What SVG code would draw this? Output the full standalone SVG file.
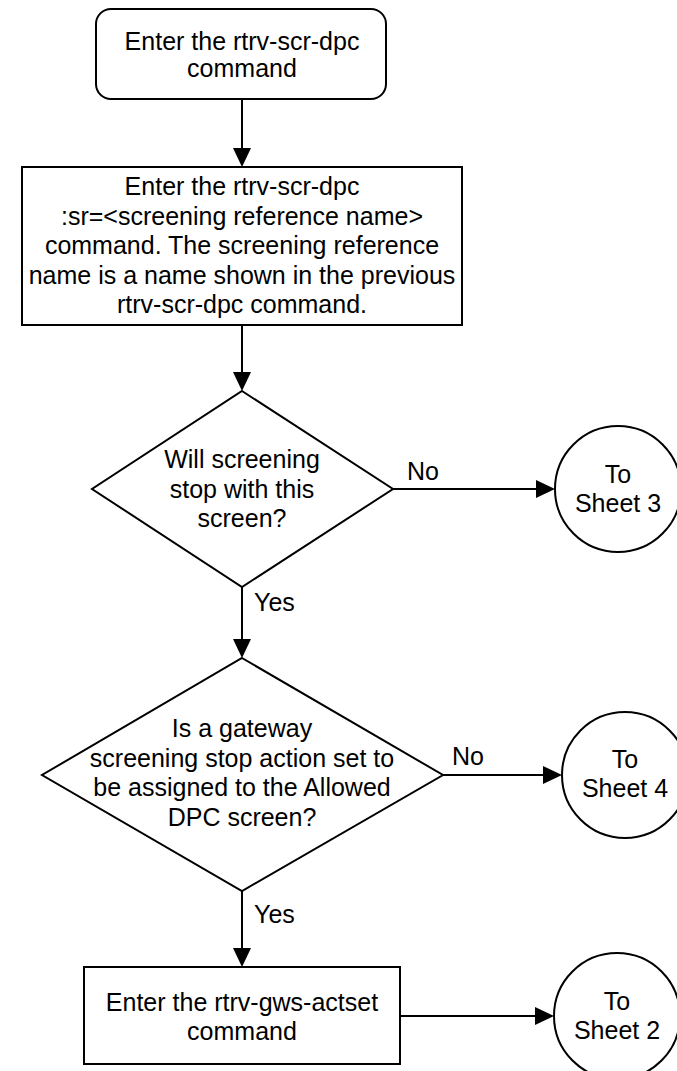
<svg xmlns="http://www.w3.org/2000/svg" width="677" height="1071" viewBox="0 0 677 1071">
<style>
.s{fill:#fff;stroke:#000;stroke-width:2}
.t{font-family:"Liberation Sans",Arial,sans-serif;font-size:25px;fill:#000;text-anchor:middle}
.l{font-family:"Liberation Sans",Arial,sans-serif;font-size:25px;fill:#000}
.c{fill:none;stroke:#000;stroke-width:2}
</style>
<defs>
<marker id="ah" markerUnits="userSpaceOnUse" markerWidth="19" markerHeight="18" refX="0" refY="9" orient="auto">
<path d="M0,0 L19,9 L0,18 z" fill="#000"/>
</marker>
</defs>
<rect width="677" height="1071" fill="#fff"/>
<g id="connectors">
<line class="c" x1="242" y1="99" x2="242" y2="148" marker-end="url(#ah)"/>
<line class="c" x1="242" y1="325" x2="242" y2="372" marker-end="url(#ah)"/>
<line class="c" x1="393" y1="489" x2="536" y2="489" marker-end="url(#ah)"/>
<line class="c" x1="242" y1="587" x2="242" y2="639" marker-end="url(#ah)"/>
<line class="c" x1="443" y1="775" x2="543" y2="775" marker-end="url(#ah)"/>
<line class="c" x1="242" y1="891" x2="242" y2="948" marker-end="url(#ah)"/>
<line class="c" x1="400" y1="1016" x2="535" y2="1016" marker-end="url(#ah)"/>
<text class="l" x="407" y="480">No</text>
<text class="l" x="254" y="611">Yes</text>
<text class="l" x="452" y="765">No</text>
<text class="l" x="254" y="923">Yes</text>
</g>
<g id="start">
<rect class="s" x="96" y="9" width="290" height="90" rx="15"/>
<text class="t" x="242" y="50">Enter the rtrv-scr-dpc</text>
<text class="t" x="242" y="77">command</text>
</g>
<g id="step2">
<rect class="s" x="22" y="167" width="440" height="158"/>
<text class="t" x="242" y="195">Enter the rtrv-scr-dpc</text>
<text class="t" x="242" y="224.5">:sr=&lt;screening reference name&gt;</text>
<text class="t" x="242" y="254">command. The screening reference</text>
<text class="t" x="242" y="283.5">name is a name shown in the previous</text>
<text class="t" x="242" y="313">rtrv-scr-dpc command.</text>
</g>
<g id="decision1">
<polygon class="s" points="242,391 393,489 242,587 92,489"/>
<text class="t" x="242" y="468">Will screening</text>
<text class="t" x="242" y="497.5">stop with this</text>
<text class="t" x="242" y="527">screen?</text>
</g>
<g id="sheet3">
<circle class="s" cx="618" cy="489" r="63"/>
<text class="t" x="618" y="483">To</text>
<text class="t" x="618" y="512">Sheet 3</text>
</g>
<g id="decision2">
<polygon class="s" points="242,658 443,775 242,891 42,775"/>
<text class="t" x="242" y="737">Is a gateway</text>
<text class="t" x="242" y="766.5">screening stop action set to</text>
<text class="t" x="242" y="796">be assigned to the Allowed</text>
<text class="t" x="242" y="825.5">DPC screen?</text>
</g>
<g id="sheet4">
<circle class="s" cx="625" cy="775" r="63"/>
<text class="t" x="625" y="768">To</text>
<text class="t" x="625" y="797">Sheet 4</text>
</g>
<g id="step3">
<rect class="s" x="84" y="967" width="316" height="97"/>
<text class="t" x="242" y="1011">Enter the rtrv-gws-actset</text>
<text class="t" x="242" y="1040">command</text>
</g>
<g id="sheet2">
<circle class="s" cx="617" cy="1016" r="63"/>
<text class="t" x="617" y="1010">To</text>
<text class="t" x="617" y="1039">Sheet 2</text>
</g>
</svg>
